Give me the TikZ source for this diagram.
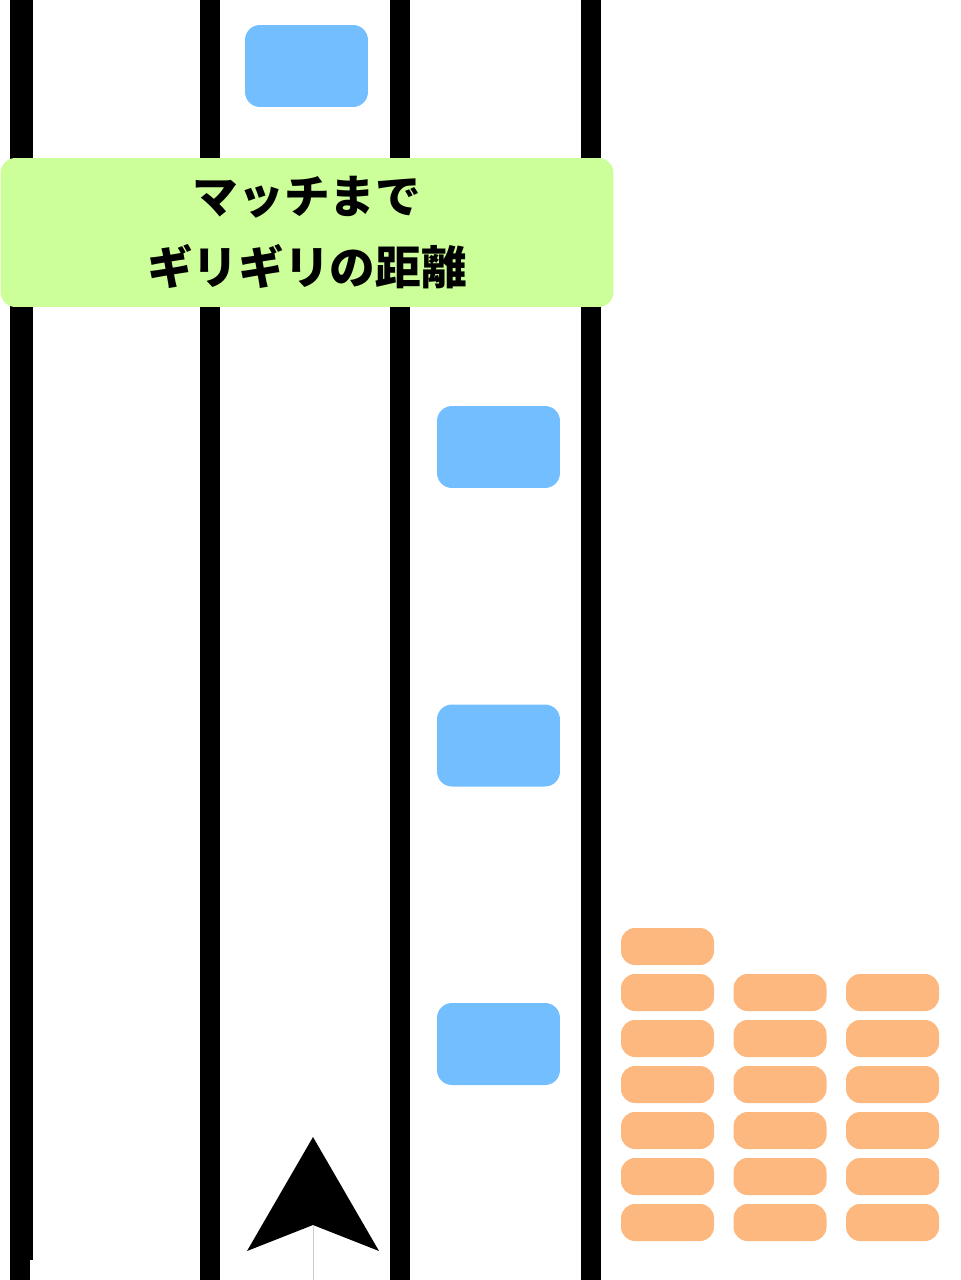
\documentclass[tikz,border=0pt]{standalone}
\usepackage{fontspec}
\newfontfamily\jpfont{Noto Sans CJK JP}
\definecolor{carblue}{RGB}{115,190,255}
\definecolor{parkorange}{RGB}{253,184,127}
\definecolor{notegreen}{RGB}{204,255,153}
\tikzset{lane/.style = {fill = black},
         car/.style = {fill = carblue, rounded corners = 0.3cm,
                       minimum width = 2.46cm, minimum height = 1.64cm, inner sep = 0pt},
         parked/.style = {fill = parkorange, rounded corners = 0.28cm,
                          minimum width = 1.86cm, minimum height = 0.74cm, inner sep = 0pt},
         note/.style = {fill = notegreen, rounded corners = 0.3cm, align = center,
                        minimum width = 12.26cm, minimum height = 2.98cm, inner sep = 0pt,
                        font = \jpfont\bfseries\fontsize{26}{40}\selectfont}
        }

\begin{document}
\begin{tikzpicture}[x=0.02cm, y=-0.02cm]
  \useasboundingbox (0,0) rectangle (960,1280);
  % lanes
  \fill[lane] (10,0) rectangle (33,1260);
  \fill[lane] (10,1260) rectangle (30,1280);
  \foreach \x in {200,390,581}
    \fill[lane] (\x,0) rectangle (\x+20,1280);
  % cars ahead
  \node[car] (car1) at (306.5,66) {};
  \node[car] (car2) at (498.5,447) {};
  \node[car] (car3) at (498.5,745.5) {};
  \node[car] (car4) at (498.5,1044) {};
  % parked cars
  \node[parked] (p0) at (667.5,946.5) {};
  \foreach \r in {1,...,6}
    \foreach \c/\x in {1/667.5,2/780,3/892.5}
      \node[parked] (p\c\r) at (\x,946.5+46*\r) {};
  % note
  \node[note] (note) at (307,232.5) {マッチまで\\ギリギリの距離};
  % own car
  \coordinate (tip) at (313,1137);
  \coordinate (notch) at (313,1225);
  \coordinate (tail) at (313,1280);
  \fill (tip) -- (379,1251) -- (notch) -- (247,1251) -- cycle;
  \draw[gray!40, very thin] (notch) -- (tail);
\end{tikzpicture}
\end{document}
